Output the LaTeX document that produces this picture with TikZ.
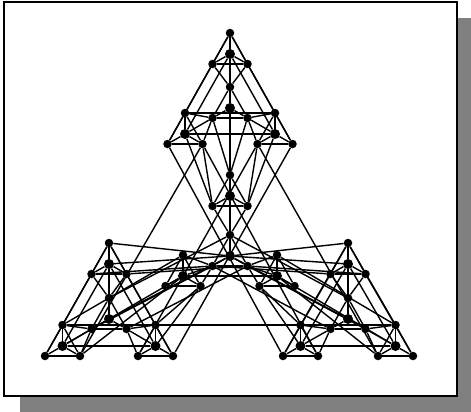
\documentclass[tikz,border=0pt]{standalone}
\usepackage{tikz}
\definecolor{shadowGray}{RGB}{128,128,128}

% one small cell: apex, left, right, centre
\newcommand{\cellnodes}[3]{
\node[dot] (#1-a) at (#2,#3) {};
\node[dot] (#1-l) at (#2-17.5,#3+31) {};
\node[dot] (#1-r) at (#2+17.5,#3+31) {};
\node[dot, minimum size=10pt] (#1-c) at (#2,#3+21) {};
\foreach \u/\v in {a/l,a/r,a/c,l/r,l/c,r/c}
    \draw[edge] (#1-\u) -- (#1-\v);
}
\newcommand{\linkcells}[2]{
\foreach \k in {a,l,r,c}
    \draw[edge] (#1-\k) -- (#2-\k);
}
% four cells of a cluster: name, apex x, apex y, spread, drop, inner drop
\newcommand{\clusternodes}[6]{
\cellnodes{#1-T}{#2}{#3}
\cellnodes{#1-BL}{#2-#4}{#3+#5}
\cellnodes{#1-BR}{#2+#4}{#3+#5}
\cellnodes{#1-I}{#2}{#3+#6}
}
% lines inside a cluster that all four use
\newcommand{\innerlinks}[1]{
\foreach \k in {l,c,r}
    \draw[edge] (#1-T-\k) -- (#1-I-a);
\foreach \k in {a,c,r}
    \draw[edge] (#1-BL-\k) -- (#1-I-l);
\foreach \k in {a,c,l}
    \draw[edge] (#1-BR-\k) -- (#1-I-r);
}
\newcommand{\outerlinks}[1]{
\foreach \k in {a,l,c}
    \draw[edge] (#1-T-\k) -- (#1-BL-\k);
\foreach \k in {a,r,c}
    \draw[edge] (#1-T-\k) -- (#1-BR-\k);
\foreach \k in {a,c}
    \draw[edge] (#1-BL-\k) -- (#1-BR-\k);
}

\begin{document}
\begin{tikzpicture}[x=1pt, y=-1pt,
dot/.style={circle, fill=black, inner sep=0pt, minimum size=8.5pt},
edge/.style={draw=black, line width=1.4pt}]
\useasboundingbox (0,0) rectangle (471,412);
\fill[shadowGray] (20,18) rectangle (471,412);
\draw[fill=white, line width=1.6pt] (4,2) rectangle (457,396);

\clusternodes{top}{230}{33}{45}{80}{54}
\clusternodes{lft}{109}{243}{46.5}{82}{55}
\clusternodes{rgt}{348}{243}{47.5}{82}{55}
\clusternodes{mid}{230}{175}{47}{80}{60}

\foreach \s in {top,lft,rgt,mid}{
    \innerlinks{\s}
}
\foreach \s in {top,lft,rgt}{
    \outerlinks{\s}
}

% long lines between the corner clusters
\draw[edge] (top-BL-l) -- (rgt-BL-l);
\draw[edge] (top-BL-r) -- (rgt-BL-r);
\draw[edge] (top-BL-r) -- (lft-BL-r);
\draw[edge] (top-BR-l) -- (lft-BR-l);
\draw[edge] (top-BR-l) -- (rgt-BR-l);
\draw[edge] (top-BR-r) -- (lft-BR-r);
\draw[edge] (lft-BL-a) -- (rgt-BR-a);
\draw[edge] (mid-BL-c) -- (mid-BR-c);
\draw[edge] (lft-T-a) -- (mid-I-c);
\draw[edge] (rgt-T-a) -- (mid-I-c);

% top cluster down to the middle one
\foreach \k in {l,c,r}
    \draw[edge] (top-I-\k) -- (mid-T-a);
\draw[edge] (top-BL-r) -- (mid-T-l);
\draw[edge] (top-BL-c) -- (mid-T-l);
\draw[edge] (top-BR-l) -- (mid-T-r);
\draw[edge] (top-BR-c) -- (mid-T-r);

% fans from the lower clusters to the middle one
\foreach \s/\n in {lft/BL,rgt/BR}{
    \foreach \k in {l,c,r}
        \draw[edge] (\s-T-\k) -- (mid-I-\k);
    \linkcells{\s-I}{mid-I}
    \draw[edge] (\s-\n-a) -- (mid-\n-a);
    \draw[edge] (\s-\n-c) -- (mid-\n-c);
}
\draw[edge] (lft-BL-r) -- (mid-BL-c);
\draw[edge] (lft-BR-a) -- (mid-BL-r);
\draw[edge] (lft-BR-c) -- (mid-BL-r);
\draw[edge] (rgt-BR-l) -- (mid-BR-c);
\draw[edge] (rgt-BL-a) -- (mid-BR-l);
\draw[edge] (rgt-BL-c) -- (mid-BR-l);
\end{tikzpicture}
\end{document}
